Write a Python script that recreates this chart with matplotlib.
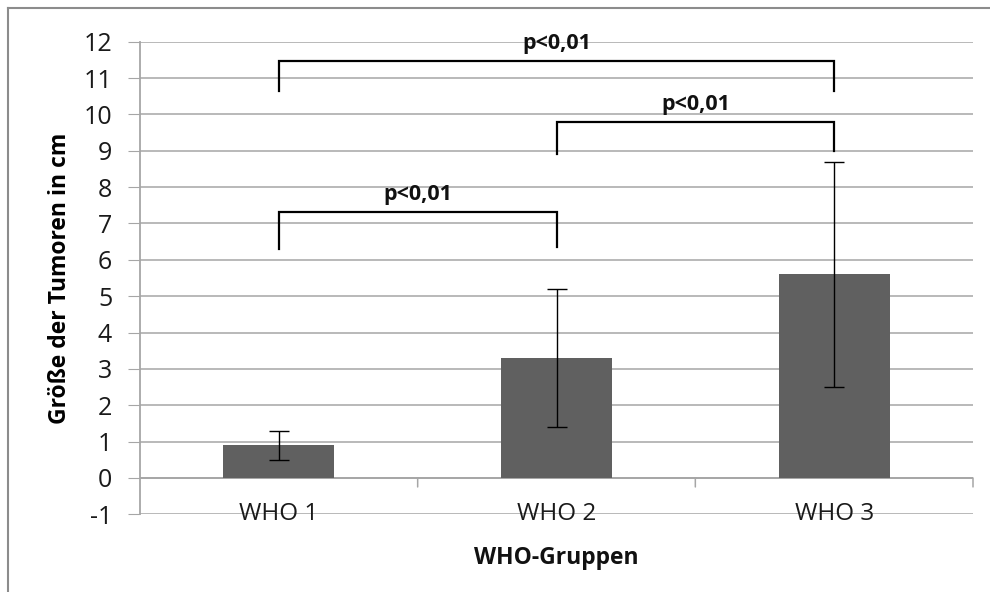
import matplotlib
matplotlib.use("Agg")
import matplotlib.pyplot as plt
from matplotlib.lines import Line2D

plt.rcParams['font.family'] = ['Open Sans', 'DejaVu Sans']

categories = ["WHO 1", "WHO 2", "WHO 3"]
means = [0.9, 3.3, 5.6]
sds = [0.4, 1.9, 3.1]
y_ticks = list(range(-1, 13))
# brackets: (left category, right category, horizontal level, left leg bottom, right leg bottom, label)
brackets = [
    (0, 2, 11.47, 10.65, 10.65, "p<0,01"),
    (1, 2, 9.79, 8.92, 9.0, "p<0,01"),
    (0, 1, 7.32, 6.31, 6.35, "p<0,01"),
]

W, H = 990, 592
fig = plt.figure(figsize=(W / 100, H / 100), dpi=100)
ax = fig.add_axes([140 / W, 1 - 514.3 / H, (973 - 140) / W, (514.3 - 41.7) / H])

x = list(range(len(categories)))
grid_col = "#a6a6a6"
ax.set_xlim(-0.5, len(categories) - 0.5)
ax.set_ylim(-1, 12)
ax.set_yticks(y_ticks)
ax.set_yticklabels([str(v) for v in y_ticks], fontsize=18)
for v in y_ticks:
    ax.axhline(v, color=grid_col, lw=1.1, zorder=0)

ax.bar(x, means, width=0.4, color="#606060", zorder=2)
ax.errorbar(x, means, yerr=sds, fmt="none", ecolor="black", elinewidth=1,
            capsize=7, capthick=1, zorder=3)

# x axis at zero with boundary ticks
ax.axhline(0, color=grid_col, lw=1.3, zorder=1)
ax.set_xticks([])
for b in [0.5, 1.5, 2.5]:
    ax.annotate("", xy=(b, 0), xycoords="data", xytext=(0, -9), textcoords="offset pixels",
                arrowprops=dict(arrowstyle="-", color=grid_col, lw=1.1, shrinkA=0, shrinkB=0))
for xi, c in zip(x, categories):
    ax.text(xi, -1.0, c, ha="center", va="center", fontsize=17.5, color="#1a1a1a", zorder=4)

for s in ["top", "right", "bottom"]:
    ax.spines[s].set_visible(False)
ax.spines["left"].set_color(grid_col)
ax.spines["left"].set_linewidth(1.3)
ax.tick_params(axis="y", length=9, color=grid_col, pad=11, labelcolor="#1a1a1a")

for l, r, h, lb, rb, lab in brackets:
    ax.plot([l, l, r, r], [lb, h, h, rb], color="black", lw=1.6, zorder=4,
            solid_joinstyle="miter")
    ax.text((l + r) / 2, h + 0.47, lab, ha="center", va="center", fontsize=15.5,
            fontweight="bold", color="#111111", zorder=4)

ax.set_ylabel("Größe der Tumoren in cm", fontsize=16.5, fontweight="bold")
ax.yaxis.set_label_coords((72 - 140) / (973 - 140), 0.5)
fig.text(556 / W, 1 - 558 / H, "WHO-Gruppen", ha="center", va="center",
         fontsize=16.5, fontweight="bold", color="#111111")

# outer frame (left and top edges)
fig.add_artist(Line2D([7.5 / W, 7.5 / W], [0, 1 - 7.5 / H], transform=fig.transFigure,
                      color="#8c8c8c", lw=1.5))
fig.add_artist(Line2D([7.5 / W, 1], [1 - 7.5 / H, 1 - 7.5 / H], transform=fig.transFigure,
                      color="#8c8c8c", lw=1.5))

fig.savefig("out.png", dpi=100)
